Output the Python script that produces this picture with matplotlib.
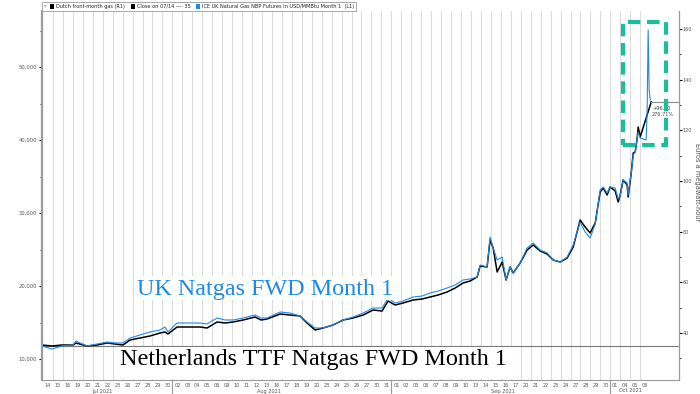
import matplotlib
matplotlib.use("Agg")
import matplotlib.pyplot as plt
import matplotlib.patches as mpatches
from matplotlib.ticker import FuncFormatter, MultipleLocator
import matplotlib.transforms as mtransforms

# trading days shown on the x axis (Jul 14 - Oct 06 2021)
day_labels = ['14', '15', '16', '19', '20', '21', '22', '23', '26', '27', '28', '29', '30',
              '02', '03', '04', '05', '06', '09', '10', '11', '12', '13', '16', '17', '18', '19', '20',
              '23', '24', '25', '26', '27', '30', '31',
              '01', '02', '03', '06', '07', '08', '09', '10', '13', '14', '15', '16', '17', '20', '21',
              '22', '23', '24', '27', '28', '29', '30',
              '01', '04', '05', '06']
month_names = ['Jul 2021', 'Aug 2021', 'Sep 2021', 'Oct 2021']
month_label_pos = [6.0, 22.7, 46.2, 59.0]
month_breaks = [13, 35, 57]

# Dutch front-month gas, EUR/MWh (right axis), x in trading days
t_dutch = [-0.10, 0.90, 1.91, 3.02, 3.32, 4.42, 5.43, 6.43, 7.24, 8.04, 8.74, 9.75, 10.75, 11.76,
           12.26, 12.56, 13.47, 14.77, 15.78, 16.48, 17.49, 18.29, 19.10, 20.10, 21.31, 21.91,
           22.51, 23.82, 24.82, 25.83, 26.53, 27.34, 28.14, 29.15, 30.15, 31.16, 32.16, 33.17,
           34.07, 34.67, 35.38, 36.18, 37.19, 38.09, 38.89, 39.70, 40.60, 41.41, 42.21, 42.91,
           43.62, 43.92, 44.62, 44.92, 45.23, 45.63, 46.13, 46.53, 46.93, 47.24, 47.94, 48.64,
           49.25, 49.95, 50.65, 51.26, 51.96, 52.66, 53.27, 53.97, 54.47, 54.97, 55.48, 55.98,
           56.28, 56.68, 56.98, 57.49, 57.79, 57.99, 58.29, 58.69, 58.79, 59.10, 59.30, 59.50,
           59.70, 59.80, 60.00, 61.11]
dutch = [35.26, 34.87, 35.26, 35.26, 36.05, 34.87, 35.26, 36.05, 35.66, 35.26, 37.24, 38.03, 38.82,
         40.00, 40.39, 39.61, 42.37, 42.37, 42.37, 41.97, 44.34, 43.95, 44.34, 45.13, 46.32, 45.13,
         45.53, 47.50, 47.10, 46.71, 43.95, 41.18, 41.97, 43.16, 45.13, 45.92, 47.10, 49.08, 48.68,
         52.63, 51.05, 51.84, 53.03, 53.42, 54.21, 55.00, 56.18, 57.76, 59.74, 60.52, 62.10, 66.44,
         66.05, 76.71, 73.55, 64.08, 68.02, 60.92, 66.05, 63.68, 67.63, 72.76, 74.73, 72.37, 71.18,
         68.81, 68.02, 69.60, 73.94, 84.60, 81.84, 79.47, 83.42, 95.65, 97.23, 94.47, 97.63, 96.05,
         91.71, 94.47, 100.39, 98.42, 93.68, 103.15, 111.05, 111.44, 116.97, 121.31, 117.36, 131.22]

# ICE UK NBP month 1 (left axis)
t_uk = [-0.10, 0.90, 1.91, 3.02, 3.32, 4.42, 5.43, 6.43, 7.24, 8.04, 8.74, 9.75, 10.75, 11.76,
        12.26, 12.56, 13.47, 14.77, 15.78, 16.48, 17.49, 18.29, 19.10, 20.10, 21.31, 21.91,
        22.51, 23.82, 24.82, 25.83, 26.53, 27.34, 28.14, 29.15, 30.15, 31.16, 32.16, 33.17,
        34.07, 34.67, 35.38, 36.18, 37.19, 38.09, 38.89, 39.70, 40.60, 41.41, 42.21, 42.91,
        43.62, 43.92, 44.62, 44.92, 45.23, 45.63, 46.13, 46.53, 46.93, 47.24, 47.94, 48.64,
        49.25, 49.95, 50.65, 51.26, 51.96, 52.66, 53.27, 53.97, 54.47, 54.97, 55.48, 55.98,
        56.28, 56.68, 56.98, 57.49, 57.79, 57.99, 58.29, 58.69, 58.79, 59.10, 59.30, 59.50,
        59.70, 59.80, 60.00, 60.60, 60.70, 60.80, 60.90, 61.01]
uk = [11781, 11370, 11781, 11918, 12466, 11781, 12055, 12329, 12192, 12192, 12877, 13288, 13699,
      13973, 14384, 13699, 14932, 14932, 14932, 14795, 15617, 15343, 15343, 15617, 16028, 15617,
      15617, 16439, 16302, 15891, 15069, 14247, 14247, 14658, 15343, 15754, 16302, 16987, 16987,
      18357, 17672, 17946, 18494, 18631, 19042, 19316, 19727, 20138, 20823, 20960, 21234, 22878,
      22604, 26714, 25207, 23563, 23974, 20823, 22604, 21782, 23152, 25207, 25892, 24933, 24522,
      23563, 23289, 23974, 25618, 28769, 27399, 26577, 28495, 33153, 33564, 32742, 33564, 33427,
      31920, 32331, 34523, 34112, 32468, 35482, 37948, 38359, 40277, 41099, 40277, 40003, 44113,
      55073, 46853, 45483]

close_0714 = 35
last_change = '+96.22'
last_pct = '276.71%'

W, H = 700, 394
def fx(x):
    return x / W
def fy(y):
    return 1 - y / H

blue = '#1f8ae6'
grey_txt = '#555555'

fig = plt.figure(figsize=(7, 3.94), dpi=100)
ax = fig.add_axes([fx(42), fy(380), (679 - 42) / W, (380 - 11) / H])
ax2 = ax.twinx()
ax.set_zorder(ax2.get_zorder() + 1)
ax.patch.set_visible(False)

xmin, xmax = -0.1, 63.9
ax.set_xlim(xmin, xmax)
ax.set_ylim(7123, 57676)
ax2.set_ylim(21.45, 167.1)

# vertical day grid
for k in range(1, 61):
    ax2.axvline(k, color='#dcdcdc', lw=0.8, zorder=0)

ax2.axhline(close_0714, color='#7a7a7a', lw=0.8, zorder=1)
ax2.plot(t_dutch, dutch, color='black', lw=1.1, zorder=2)
ax.plot(t_uk, uk, color=blue, lw=0.8, zorder=3)

# last value marker
ax2.plot([61.11, xmax], [131.22, 131.22], color='#8a8a8a', lw=0.8, clip_on=False)
ax2.text(61.2, 129.5, last_change + '\n' + last_pct, fontsize=3.6, color='#444444',
         va='top', ha='left', linespacing=1.2)

# axes styling
for a in (ax, ax2):
    a.spines['top'].set_visible(False)
ax.spines['left'].set_color('#9a9a9a')
ax.spines['left'].set_linewidth(1.6)
ax.spines['bottom'].set_color('#9a9a9a')
ax.spines['right'].set_visible(False)
ax2.spines['left'].set_visible(False)
ax2.spines['bottom'].set_visible(False)
ax2.spines['right'].set_color('#9a9a9a')
ax2.spines['right'].set_linewidth(0.9)

ax.yaxis.set_major_locator(MultipleLocator(10000))
ax.yaxis.set_minor_locator(MultipleLocator(5000))
ax.yaxis.set_major_formatter(FuncFormatter(lambda v, p: f'{int(v):,}'))
ax.tick_params(axis='y', which='major', labelsize=3.8, labelcolor=grey_txt, length=2.5, width=0.8, pad=1)
ax.tick_params(axis='y', which='minor', length=1.5, width=0.6)

ax2.yaxis.set_major_locator(MultipleLocator(20))
ax2.yaxis.set_minor_locator(MultipleLocator(10))
ax2.tick_params(axis='y', which='major', labelsize=3.5, labelcolor=grey_txt, length=2, width=0.8, pad=0.8)
ax2.tick_params(axis='y', which='minor', length=1.2, width=0.6)
fig.text(fx(696.5), fy(182), 'Euros a megawatt-hour', rotation=270, fontsize=4.8, color=grey_txt,
         ha='center', va='center')

ax.set_xticks([i + 0.5 for i in range(len(day_labels))])
ax.set_xticklabels(day_labels)
ax.tick_params(axis='x', labelsize=3.6, labelcolor=grey_txt, length=0, pad=2)

# month separators and labels
trans = mtransforms.blended_transform_factory(ax.transData, ax.transAxes)
for b in month_breaks:
    ax.plot([b, b], [0, -13 / 369], color='#9a9a9a', lw=0.8, transform=trans, clip_on=False)
for name, pos in zip(month_names, month_label_pos):
    ax.text(pos, -11 / 369, name, transform=trans, fontsize=3.6, color=grey_txt,
            ha='center', va='center')

# legend strip at the top
fig.patches.append(mpatches.Rectangle((fx(42), fy(11)), (356 - 42) / W, 9 / H, transform=fig.transFigure,
                                      facecolor='white', edgecolor='#9a9a9a', lw=0.6))
legend_items = [(50, 'black', 'Dutch front-month gas (R1)'),
                (131, 'black', 'Close on 07/14 ---- 35'),
                (196, blue, 'ICE UK Natural Gas NBP Futures in USD/MMBtu Month 1  (L1)')]
fig.text(fx(44), fy(6.5), '\u25bf', fontsize=3.5, color='#666666', va='center', ha='left')
for x0, c, lab in legend_items:
    fig.patches.append(mpatches.Rectangle((fx(x0), fy(8.5)), 4 / W, 4 / H, transform=fig.transFigure,
                                          facecolor=c, edgecolor='none'))
    fig.text(fx(x0 + 6), fy(6.5), lab, fontsize=3.6, color='#222222', va='center', ha='left')

# big annotations with white backing
fig.patches.append(mpatches.Rectangle((fx(134), fy(300)), (394 - 134) / W, (300 - 276) / H,
                                      transform=fig.transFigure, facecolor='white', edgecolor='none', zorder=2))
fig.text(fx(137), fy(295), 'UK Natgas FWD Month 1', fontsize=17.4, color=blue,
         family='Liberation Serif', va='baseline', ha='left', zorder=4)
fig.patches.append(mpatches.Rectangle((fx(117), fy(379)), (512 - 117) / W, (379 - 347) / H,
                                      transform=fig.transFigure, facecolor='white', edgecolor='none', zorder=2))
fig.text(fx(120), fy(365), 'Netherlands TTF Natgas FWD Month 1', fontsize=17.4, color='black',
         family='Liberation Serif', va='baseline', ha='left', zorder=4)

# highlight box around the spike
fig.patches.append(mpatches.Rectangle((fx(623), fy(145)), (666 - 623) / W, (145 - 22) / H,
                                      transform=fig.transFigure, facecolor='none', edgecolor='#19bf9b',
                                      lw=3, linestyle=(0, (3, 1.6)), zorder=5))

fig.savefig('out.png', dpi=100)
